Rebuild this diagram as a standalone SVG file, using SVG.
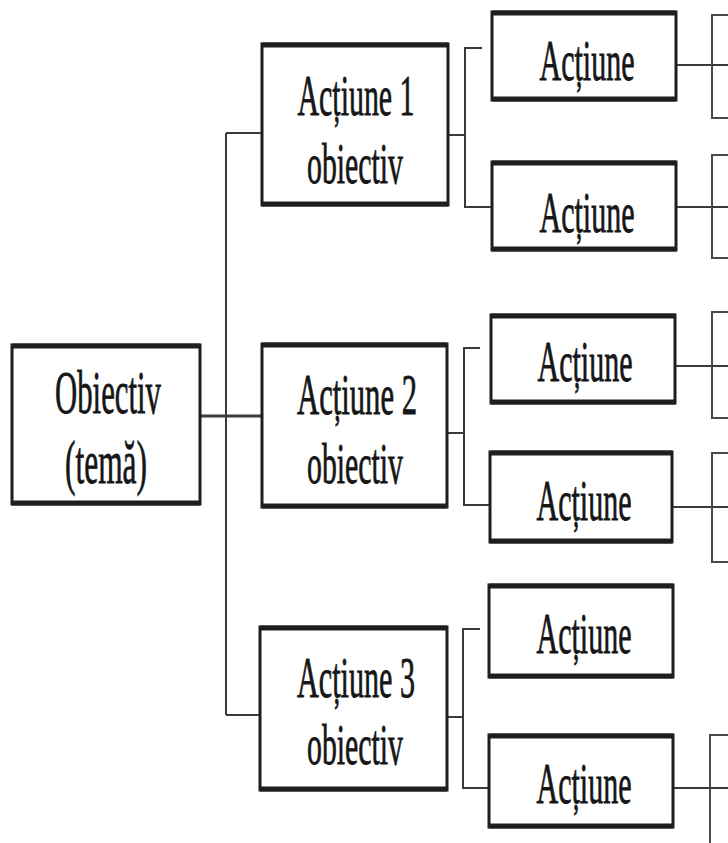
<svg xmlns="http://www.w3.org/2000/svg" width="728" height="843" viewBox="0 0 728 843">
  <style>
    .box { fill: #ffffff; stroke: #1e1e1e; stroke-width: 3; }
    .edge { stroke: #1e1e1e; stroke-width: 5; fill: none; }
    .lbl { font-family: "Liberation Serif", "Times New Roman", serif; fill: #161616; stroke: #161616; stroke-width: 0.8; text-anchor: middle; }
    .root { font-size: 62px; }
    .mid { font-size: 57px; }
    .leaf { font-size: 57px; }
    .wire { stroke: #3a3a3a; stroke-width: 2; fill: none; }
    .wire-b { stroke: #3a3a3a; stroke-width: 3; fill: none; }
    .ghost { stroke: #4a4a4a; stroke-width: 2; fill: #ffffff; }
  </style>
  <rect width="728" height="843" fill="#ffffff"/>

  <!-- connectors -->
  <g id="connectors">
    <!-- root to second level -->
    <path class="wire-b" d="M200 416 H262"/>
    <path class="wire" d="M226 133 V715 M226 133 H262 M226 715 H260"/>
    <!-- bracket under Acțiune 1 -->
    <path class="wire" d="M448 135 H465 M482 48 H465 V207 H492"/>
    <!-- bracket under Acțiune 2 -->
    <path class="wire" d="M447 433 H464 M480 348 H464 V505 H490"/>
    <!-- bracket under Acțiune 3 -->
    <path class="wire" d="M447 717 H463 M480 629 H463 V788 H489"/>
    <!-- leaves to the cut-off column -->
    <path class="wire" d="M676 65 H728 M676 207 H728 M675 366 H728 M672 507 H728 M673 788 H728"/>
  </g>

  <!-- cut-off boxes at the right edge -->
  <g id="edge-boxes">
    <rect class="ghost" x="712" y="15" width="30" height="103"/>
    <rect class="ghost" x="712" y="155" width="30" height="103"/>
    <rect class="ghost" x="712" y="312" width="30" height="106"/>
    <rect class="ghost" x="712" y="453" width="30" height="109"/>
    <rect class="ghost" x="710" y="735" width="30" height="120"/>
    <path class="wire" d="M712 65 H728 M712 207 H728 M712 366 H728 M712 507 H728 M710 788 H728"/>
  </g>

  <!-- root -->
  <g id="root">
    <rect class="box" x="12" y="345" width="188" height="159"/>
    <path class="edge" d="M12 346 H200 M12 503 H200"/>
    <text class="lbl root" x="108" y="413" textLength="106" lengthAdjust="spacingAndGlyphs">Obiectiv</text>
    <text class="lbl root" x="106" y="483" textLength="82" lengthAdjust="spacingAndGlyphs">(temă)</text>
  </g>

  <!-- second level -->
  <g id="act1">
    <rect class="box" x="262" y="44" width="186" height="161"/>
    <path class="edge" d="M262 45 H448 M262 204 H448"/>
    <text class="lbl mid" x="356" y="115" textLength="117" lengthAdjust="spacingAndGlyphs">Acțiune 1</text>
    <text class="lbl mid" x="355" y="183" textLength="96" lengthAdjust="spacingAndGlyphs">obiectiv</text>
  </g>
  <g id="act2">
    <rect class="box" x="262" y="344" width="185" height="163"/>
    <path class="edge" d="M262 345 H447 M262 506 H447"/>
    <text class="lbl mid" x="357" y="414" textLength="120" lengthAdjust="spacingAndGlyphs">Acțiune 2</text>
    <text class="lbl mid" x="355" y="483" textLength="96" lengthAdjust="spacingAndGlyphs">obiectiv</text>
  </g>
  <g id="act3">
    <rect class="box" x="260" y="627" width="187" height="163"/>
    <path class="edge" d="M260 628 H447 M260 789 H447"/>
    <text class="lbl mid" x="356" y="697" textLength="118" lengthAdjust="spacingAndGlyphs">Acțiune 3</text>
    <text class="lbl mid" x="355" y="764" textLength="96" lengthAdjust="spacingAndGlyphs">obiectiv</text>
  </g>

  <!-- third level -->
  <g id="leaf1">
    <rect class="box" x="492" y="12" width="184" height="88"/>
    <path class="edge" d="M492 13 H676 M492 99 H676"/>
    <text class="lbl leaf" x="587" y="80" textLength="95" lengthAdjust="spacingAndGlyphs">Acțiune</text>
  </g>
  <g id="leaf2">
    <rect class="box" x="492" y="162" width="184" height="88"/>
    <path class="edge" d="M492 163 H676 M492 249 H676"/>
    <text class="lbl leaf" x="587" y="232" textLength="95" lengthAdjust="spacingAndGlyphs">Acțiune</text>
  </g>
  <g id="leaf3">
    <rect class="box" x="491" y="315" width="184" height="88"/>
    <path class="edge" d="M491 316 H675 M491 402 H675"/>
    <text class="lbl leaf" x="585" y="381" textLength="95" lengthAdjust="spacingAndGlyphs">Acțiune</text>
  </g>
  <g id="leaf4">
    <rect class="box" x="490" y="452" width="182" height="90"/>
    <path class="edge" d="M490 453 H672 M490 541 H672"/>
    <text class="lbl leaf" x="584" y="520" textLength="95" lengthAdjust="spacingAndGlyphs">Acțiune</text>
  </g>
  <g id="leaf5">
    <rect class="box" x="489" y="585" width="184" height="92"/>
    <path class="edge" d="M489 586 H673 M489 676 H673"/>
    <text class="lbl leaf" x="584" y="653" textLength="95" lengthAdjust="spacingAndGlyphs">Acțiune</text>
  </g>
  <g id="leaf6">
    <rect class="box" x="489" y="735" width="184" height="92"/>
    <path class="edge" d="M489 736 H673 M489 826 H673"/>
    <text class="lbl leaf" x="584" y="803" textLength="95" lengthAdjust="spacingAndGlyphs">Acțiune</text>
  </g>
</svg>
